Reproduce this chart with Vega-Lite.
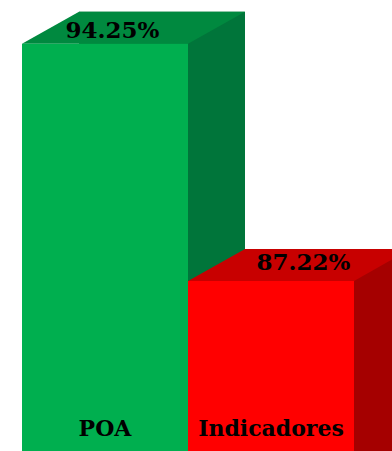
{
  "$schema": "https://vega.github.io/schema/vega-lite/v6.json",
  "width": 332,
  "height": 457,
  "autosize": "none",
  "padding": {"left": 22, "top": 0, "right": 38, "bottom": 0},
  "background": "white",
  "config": {"view": {"stroke": null}},
  "data": {"values": [
    {"categoria": "POA", "valor": 0.9425},
    {"categoria": "Indicadores", "valor": 0.8722}
  ]},
  "encoding": {
    "x": {
      "field": "categoria", "type": "nominal", "sort": ["POA", "Indicadores"],
      "scale": {"paddingInner": 0, "paddingOuter": 0},
      "axis": {"title": null, "domain": false, "ticks": false, "labelAngle": 0,
        "labelPadding": -29, "labelBaseline": "middle", "labelFont": "DejaVu Serif",
        "labelFontWeight": "bold", "labelFontSize": 22, "labelColor": "black", "zindex": 1}
    },
    "y": {"field": "valor", "type": "quantitative", "scale": {"domain": [0.82, 0.9555], "zero": false}, "axis": null}
  },
  "layer": [
    {
      "mark": {"type": "bar", "xOffset": 57, "x2Offset": 57, "yOffset": -32},
      "encoding": {"color": {"condition": {"test": "datum.categoria === 'POA'", "value": "#00753A"}, "value": "#A50000"}}
    },
    {
      "mark": {"type": "point", "filled": true, "opacity": 1, "size": 40000, "strokeWidth": 0,
        "shape": "M -0.83 0 L 0.83 0 L 1.40 -0.32 L -0.26 -0.32 Z"},
      "encoding": {"color": {"condition": {"test": "datum.categoria === 'POA'", "value": "#00893F"}, "value": "#C80000"}}
    },
    {
      "mark": {"type": "bar"},
      "encoding": {"color": {"condition": {"test": "datum.categoria === 'POA'", "value": "#00AF4F"}, "value": "#FF0000"}}
    },
    {
      "transform": [{"filter": "datum.categoria === 'POA'"}],
      "mark": {"type": "text", "dx": 7.5, "dy": -12.5, "baseline": "middle", "align": "center",
        "font": "DejaVu Serif", "fontWeight": "bold", "fontSize": 23, "color": "black"},
      "encoding": {"text": {"field": "valor", "type": "quantitative", "format": ".2%"}}
    },
    {
      "transform": [{"filter": "datum.categoria === 'Indicadores'"}],
      "mark": {"type": "text", "dx": 32.5, "dy": -17.5, "baseline": "middle", "align": "center",
        "font": "DejaVu Serif", "fontWeight": "bold", "fontSize": 23, "color": "black"},
      "encoding": {"text": {"field": "valor", "type": "quantitative", "format": ".2%"}}
    }
  ]
}
